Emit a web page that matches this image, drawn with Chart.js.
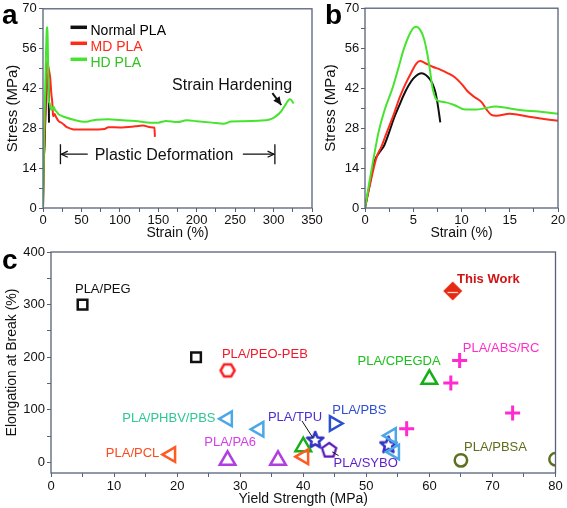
<!DOCTYPE html>
<html>
<head>
<meta charset="utf-8">
<script src="https://cdn.jsdelivr.net/npm/chart.js@4.4.1/dist/chart.umd.min.js"></script>
<style>
  html, body { margin: 0; padding: 0; background: #fff; }
  #wrap { position: relative; width: 567px; height: 508px; overflow: hidden; font-family: "Liberation Sans", Arial, sans-serif; }
  canvas { position: absolute; }
  .tag { position: absolute; font-weight: bold; font-size: 28px; line-height: 1; color: #000; }
</style>
</head>
<body>
<div id="wrap">
  <canvas id="chartA" width="330" height="242" style="left:0;top:0"></canvas>
  <canvas id="chartB" width="249" height="242" style="left:318px;top:0"></canvas>
  <canvas id="chartC" width="567" height="268" style="left:0;top:240px"></canvas>
  <div class="tag" style="left:2px;top:1px">a</div>
  <div class="tag" style="left:325px;top:1px">b</div>
  <div class="tag" style="left:2px;top:246px">c</div>
</div>
<script>
// ---- panels a / b : stress-strain curves ----
const normalStrain = [0, 0.5, 1.0, 1.5, 2.0, 2.5, 3.0, 3.5, 4.0, 4.5, 5.0, 5.5, 5.9, 6.3, 6.7, 7.0, 7.3, 7.5, 7.7, 7.8];
const normalStress = [0, 8.5, 16.5, 19.5, 22, 26.5, 31.5, 35.5, 39.5, 42.8, 45.3, 46.8, 47.2, 46.6, 45.2, 43.5, 40.5, 37, 32.5, 30];

const mdStrain = [0, 0.5, 1.2, 1.7, 2.2, 3.0, 3.6, 4.2, 4.8, 5.3, 5.7, 6.2, 7.0, 7.8, 8.6, 9.3, 10.0, 10.6, 11.3, 12.1,
  12.6, 13.1, 13.6, 15, 17, 20, 25, 30, 35, 40, 60, 80, 85, 100, 120, 130, 140, 145, 145.6];
const mdStress = [0, 8, 17.8, 21.5, 26, 33, 38.8, 43.5, 47.5, 50.5, 51.5, 50.8, 49.5, 48.5, 47.2, 45.8, 43.5, 41, 39, 37,
  34.5, 32.6, 32.3, 33, 32, 30.6, 29.8, 28.6, 28, 27.6, 27.6, 27.8, 28.4, 28.3, 28.7, 29, 28.4, 28.2, 25];

const hdStrain = [0, 0.5, 1.0, 1.4, 2.0, 2.9, 3.5, 4.0, 4.5, 5.0, 5.3, 5.7, 6.1, 6.4, 6.7, 7.0, 7.3, 7.6, 8.4, 9.3,
  10.4, 11.5, 12.5, 13.5, 14.5, 16, 18, 20, 25, 30, 40, 55, 60, 70, 85, 100, 120, 140, 150, 160,
  175, 187, 200, 220, 235, 245, 260, 280, 295, 302, 310, 316, 321, 323, 326];
const hdStress = [0, 10, 19.5, 26.5, 34, 42.5, 49.5, 55.5, 60, 63, 63.5, 62.5, 59.5, 55, 49, 42, 38.5, 37.5, 37, 36,
  34.5, 34.5, 35, 35.6, 35.2, 34.3, 33.8, 33, 32.3, 31.8, 31, 30.3, 30.5, 31, 31.2, 30.9, 30.6, 30, 30, 30.6,
  30.2, 30.8, 30.5, 30, 29.6, 30.4, 30.5, 30.7, 31.1, 32, 34, 36.5, 38.2, 38, 36.7];

const stressTicks = [0, 7, 14, 21, 28, 35, 42, 49, 56, 63, 70];
const stressMajor = [0, 14, 28, 42, 56, 70];
const strainTicksA = [0, 25, 50, 75, 100, 125, 150, 175, 200, 225, 250, 275, 300, 325, 350];
const strainMajorA = [0, 50, 100, 150, 200, 250, 300, 350];
const strainTicksB = [0, 2.5, 5, 7.5, 10, 12.5, 15, 17.5, 20];
const strainMajorB = [0, 5, 10, 15, 20];

// ---- panel c : elongation vs yield strength ----
const pegX = [5, 23],               pegY = [300, 200];
const peoPebX = [28],               peoPebY = [175];
const phbvX = [28, 33, 54, 54.5],   phbvY = [83, 63, 51, 20];
const pclX = [19, 40.1],            pclY = [15, 11];
const pa6X = [28, 36],              pa6Y = [4, 4];
const cpegdaX = [40, 60],           cpegdaY = [30, 158];
const tpuX = [41.9, 53.5],          tpuY = [42, 33];
const pbsX = [44.9],                pbsY = [74];
const syboX = [44.1],               syboY = [23];
const absRcX = [64.8, 63.4, 73.2, 56.4], absRcY = [194, 151, 94, 64];
const pbsaX = [65, 80],             pbsaY = [4, 6];
const thisWorkX = [63.7],           thisWorkY = [326];

const yieldTicks = [0, 5, 10, 15, 20, 25, 30, 35, 40, 45, 50, 55, 60, 65, 70, 75, 80];
const yieldMajor = [0, 10, 20, 30, 40, 50, 60, 70, 80];
const elongTicks = [0, 50, 100, 150, 200, 250, 300, 350, 400];
const elongMajor = [0, 100, 200, 300, 400];

const FONT = '"Liberation Sans", Arial, sans-serif';
const AXIS = '#56627a';
const BLACK = '#111111', RED = '#ff2b1a', GREEN = '#46e42e';

Chart.defaults.font.family = FONT;

const pts = (xs, ys) => xs.map((x, i) => ({ x, y: ys[i] }));

function axis(o) {
  return {
    type: 'linear', min: o.min, max: o.max,
    afterFit: o.fit,
    afterBuildTicks: s => { s.ticks = o.ticks.map(v => ({ value: v })); },
    grid: { drawOnChartArea: false, drawTicks: true, tickLength: 4, color: AXIS, tickColor: AXIS },
    border: { display: false },
    ticks: {
      color: BLACK, padding: o.pad, maxRotation: 0, autoSkip: false,
      font: { size: 13, lineHeight: 1 },
      callback: v => o.major.includes(v) ? String(v) : ''
    },
    title: { display: true, text: o.title, color: BLACK, font: { size: o.tsize, lineHeight: 1.2 }, padding: o.tpad }
  };
}

const frame = {
  id: 'frame',
  afterDatasetsDraw(chart) {
    const { ctx, chartArea: a } = chart;
    ctx.save();
    ctx.strokeStyle = AXIS;
    ctx.lineWidth = 1.3;
    ctx.strokeRect(a.left, a.top, a.right - a.left, a.bottom - a.top);
    ctx.restore();
  }
};

function curve(label, xs, ys, color) {
  return { label, data: pts(xs, ys), showLine: true, borderColor: color, borderWidth: 2,
    pointRadius: 0, cubicInterpolationMode: 'monotone' };
}

function curveChart(id, strainMax, strainTicks, strainMajor, yWidth, padRight, tickPadY, extra) {
  return new Chart(document.getElementById(id), {
    type: 'scatter',
    data: { datasets: [
      curve('HD PLA', hdStrain, hdStress, GREEN),
      curve('MD PLA', mdStrain, mdStress, RED),
      curve('Normal PLA', normalStrain, normalStress, BLACK)
    ] },
    options: {
      responsive: false, animation: false, events: [], devicePixelRatio: 1,
      layout: { padding: { top: 7, right: padRight, left: 0, bottom: 0 } },
      plugins: { legend: { display: false }, tooltip: { enabled: false } },
      scales: {
        x: axis({ min: 0, max: strainMax, ticks: strainTicks, major: strainMajor, pad: 1.5,
          title: 'Strain (%)', tsize: 14, tpad: { top: 0, bottom: 0 }, fit: s => { s.height = 34; } }),
        y: axis({ min: 0, max: 70, ticks: stressTicks, major: stressMajor, pad: tickPadY,
          title: 'Stress (MPa)', tsize: 15, tpad: { top: 3.5, bottom: 0 }, fit: s => { s.width = yWidth; } })
      }
    },
    plugins: [frame].concat(extra || [])
  });
}

function arrowHead(ctx, x1, y1, x2, y2, len, filled) {
  const a = Math.atan2(y2 - y1, x2 - x1);
  ctx.beginPath();
  ctx.moveTo(x2 - len * Math.cos(a - 0.45), y2 - len * Math.sin(a - 0.45));
  ctx.lineTo(x2, y2);
  ctx.lineTo(x2 - len * Math.cos(a + 0.45), y2 - len * Math.sin(a + 0.45));
  if (filled) { ctx.closePath(); ctx.fill(); } else ctx.stroke();
}

// legend + annotations of panel a
const annotA = {
  id: 'annotA',
  afterDraw(chart) {
    const { ctx, chartArea: a, scales: { x, y } } = chart;
    ctx.save();
    const rows = [['Normal PLA', BLACK, '#000'], ['MD PLA', RED, '#ff2a1a'], ['HD PLA', GREEN, '#2fc41f']];
    ctx.font = '14px ' + FONT;
    ctx.textBaseline = 'alphabetic';
    rows.forEach((r, i) => {
      const ly = a.top + 18.5 + i * 16;
      ctx.strokeStyle = r[1]; ctx.lineWidth = 3.5;
      ctx.beginPath(); ctx.moveTo(a.left + 27.5, ly); ctx.lineTo(a.left + 44, ly); ctx.stroke();
      ctx.fillStyle = r[2];
      ctx.fillText(r[0], a.left + 47.5, ly + 8);
    });

    ctx.fillStyle = BLACK; ctx.strokeStyle = BLACK;
    ctx.font = '16px ' + FONT;
    ctx.textAlign = 'center';
    ctx.fillText('Strain Hardening', x.getPixelForValue(246), y.getPixelForValue(41.6));
    const h1 = [x.getPixelForValue(298.5), y.getPixelForValue(40.4)];
    const h2 = [x.getPixelForValue(310), y.getPixelForValue(36.2)];
    ctx.lineWidth = 2;
    ctx.beginPath(); ctx.moveTo(h1[0], h1[1]); ctx.lineTo(h2[0], h2[1]); ctx.stroke();
    arrowHead(ctx, h1[0], h1[1], h2[0], h2[1], 9, true);

    ctx.fillText('Plastic Deformation', x.getPixelForValue(157.5), y.getPixelForValue(16.9));
    const py = y.getPixelForValue(18.9);
    const bl = x.getPixelForValue(22.7), br = x.getPixelForValue(301.7);
    const al = x.getPixelForValue(58.2), ar = x.getPixelForValue(260);
    ctx.lineWidth = 1.3;
    ctx.beginPath();
    ctx.moveTo(bl, py - 10); ctx.lineTo(bl, py + 10);
    ctx.moveTo(br, py - 10); ctx.lineTo(br, py + 10);
    ctx.moveTo(al, py); ctx.lineTo(bl + 1, py);
    ctx.moveTo(ar, py); ctx.lineTo(br - 1, py);
    ctx.stroke();
    arrowHead(ctx, al, py, bl + 1, py, 7, false);
    arrowHead(ctx, ar, py, br - 1, py, 7, false);
    ctx.restore();
  }
};

curveChart('chartA', 350, strainTicksA, strainMajorA, 43, 18, 2.3, [annotA]);
curveChart('chartB', 20, strainTicksB, strainMajorB, 47, 9, 1.7);

// ---- marker images for panel c ----
function shape(size, draw) {
  const c = document.createElement('canvas');
  c.width = size; c.height = size;
  draw(c.getContext('2d'), size / 2);
  return c;
}
function polygonImg(n, r, rot, color, lw) {
  return shape(Math.ceil(2 * r + lw + 3), (g, m) => {
    g.beginPath();
    for (let i = 0; i < n; i++) {
      const t = rot + i * 2 * Math.PI / n;
      g.lineTo(m + r * Math.cos(t), m + r * Math.sin(t));
    }
    g.closePath(); g.strokeStyle = color; g.lineWidth = lw; g.stroke();
  });
}
function starImg(ro, ri, color, lw) {
  return shape(Math.ceil(2 * ro + lw + 3), (g, m) => {
    g.beginPath();
    for (let i = 0; i < 10; i++) {
      const t = -Math.PI / 2 + i * Math.PI / 5, r = i % 2 ? ri : ro;
      g.lineTo(m + r * Math.cos(t), m + r * Math.sin(t));
    }
    g.closePath(); g.strokeStyle = color; g.lineWidth = lw; g.lineJoin = 'round'; g.stroke();
  });
}
function diamondImg(r) {
  return shape(Math.ceil(2 * r + 3), (g, m) => {
    g.beginPath();
    g.moveTo(m, m - r); g.lineTo(m + r, m); g.lineTo(m, m + r); g.lineTo(m - r, m); g.closePath();
    g.fillStyle = '#e42a12'; g.fill();
    g.beginPath();
    g.moveTo(m - r * 0.55, m + 1.5); g.lineTo(m + r * 0.55, m + 1.5);
    g.strokeStyle = '#ffd8cc'; g.lineWidth = 1.3; g.stroke();
  });
}

function group(xs, ys, style, color, radius, width, rotation) {
  return { data: pts(xs, ys), pointStyle: style, pointRadius: radius, pointBorderWidth: width,
    pointBorderColor: color, pointBackgroundColor: 'rgba(0,0,0,0)', pointRotation: rotation || 0 };
}

const labelsC = [
  { text: 'PLA/PEG', x: 3.8, y: 328, color: '#111111' },
  { text: 'PLA/PEO-PEB', x: 27.1, y: 206, color: '#f0182a' },
  { text: 'PLA/PHBV/PBS', x: 11.3, y: 84, color: '#2fc795' },
  { text: 'PLA/PCL', x: 8.7, y: 18, color: '#ff4a1e' },
  { text: 'PLA/PA6', x: 24.3, y: 38.6, color: '#d43ee6' },
  { text: 'PLA/TPU', x: 34.4, y: 86, color: '#4f2fd2' },
  { text: 'PLA/PBS', x: 44.6, y: 99.5, color: '#2f4fd2' },
  { text: 'PLA/SYBO', x: 44.8, y: -1.3, color: '#5c1ec8' },
  { text: 'PLA/CPEGDA', x: 48.6, y: 192.7, color: '#1cc01c' },
  { text: 'PLA/ABS/RC', x: 65.3, y: 217.4, color: '#ff2ec8' },
  { text: 'PLA/PBSA', x: 65.5, y: 29, color: '#5c6e1c' }
];
const leadersC = [[39.8, 79, 41.5, 47.3], [44.6, 20, 45.6, 13]];

const annotC = {
  id: 'annotC',
  afterDraw(chart) {
    const { ctx, scales: { x, y } } = chart;
    ctx.save();
    ctx.textBaseline = 'middle';
    ctx.font = '13px ' + FONT;
    labelsC.forEach(l => {
      ctx.fillStyle = l.color;
      ctx.fillText(l.text, x.getPixelForValue(l.x), y.getPixelForValue(l.y));
    });
    ctx.font = 'bold 13px ' + FONT;
    ctx.fillStyle = '#d01414';
    ctx.fillText('This Work', x.getPixelForValue(64.4), y.getPixelForValue(348.6));
    ctx.strokeStyle = '#111'; ctx.lineWidth = 1;
    leadersC.forEach(s => {
      ctx.beginPath();
      ctx.moveTo(x.getPixelForValue(s[0]), y.getPixelForValue(s[1]));
      ctx.lineTo(x.getPixelForValue(s[2]), y.getPixelForValue(s[3]));
      ctx.stroke();
    });
    ctx.restore();
  }
};

new Chart(document.getElementById('chartC'), {
  type: 'scatter',
  data: { datasets: [
    group(pegX, pegY, 'rect', '#111111', 6.8, 2.5),
    group(peoPebX, peoPebY, polygonImg(6, 7, 0, '#ff1a1a', 2.5), '#ff1a1a', 6, 0),
    group(phbvX, phbvY, 'triangle', '#4aa8e8', 8.5, 2.5, -90),
    group(pclX, pclY, 'triangle', '#ff5a22', 8.5, 2.5, -90),
    group(pa6X, pa6Y, 'triangle', '#b03ee0', 9, 2.5),
    group(cpegdaX, cpegdaY, 'triangle', '#16b016', 9, 2.5),
    group(pbsX, pbsY, 'triangle', '#2c4fd0', 8.5, 2.5, 90),
    group(tpuX, tpuY, starImg(8.5, 3.8, '#3434c4', 2.6), '#3434c4', 6, 0),
    group(syboX, syboY, polygonImg(5, 7.5, -Math.PI / 2, '#5a14b4', 2.2), '#5a14b4', 6, 0),
    group(absRcX, absRcY, 'cross', '#ff2ad0', 7.5, 3),
    group(pbsaX, pbsaY, 'circle', '#5c7020', 6.2, 2.5),
    group(thisWorkX, thisWorkY, diamondImg(9.5), '#e42a12', 6, 0)
  ] },
  options: {
    responsive: false, animation: false, events: [], devicePixelRatio: 1,
    layout: { padding: { top: 12, right: 9, left: 0, bottom: 0 } },
    plugins: { legend: { display: false }, tooltip: { enabled: false } },
    scales: {
      x: axis({ min: 0, max: 80, ticks: yieldTicks, major: yieldMajor, pad: 3,
        title: 'Yield Strength (MPa)', tsize: 14, tpad: { top: 0, bottom: 0 }, fit: s => { s.height = 35; } }),
      y: axis({ min: -20, max: 400, ticks: elongTicks, major: elongMajor, pad: 2,
        title: 'Elongation at Break (%)', tsize: 14, tpad: { top: 3.6, bottom: 0 }, fit: s => { s.width = 51; } })
    }
  },
  plugins: [frame, annotC]
});
</script>
</body>
</html>
